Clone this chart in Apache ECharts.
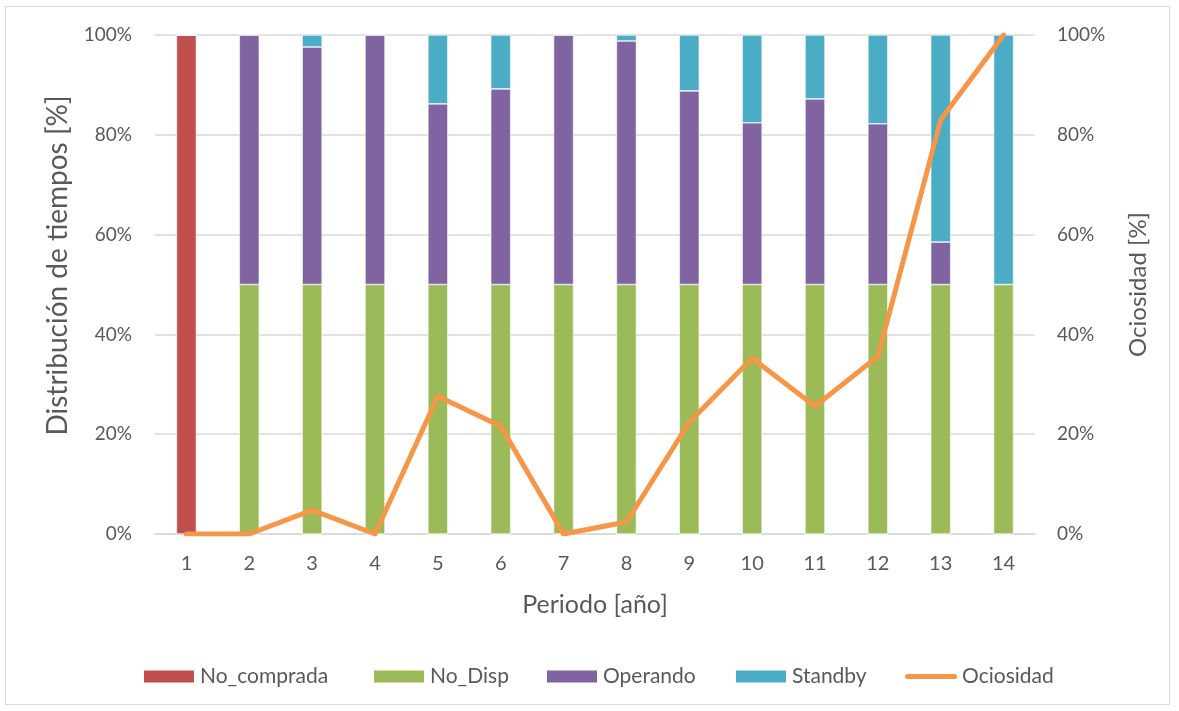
<!DOCTYPE html>
<html>
<head>
<meta charset="utf-8">
<script src="https://cdn.jsdelivr.net/npm/echarts@6/dist/echarts.min.js"></script>
<style>
  html, body { margin: 0; padding: 0; background: #fff; }
  #frame { position: absolute; left: 5px; top: 6px; width: 1165px; height: 699px; border: 1px solid #D9D9D9; box-sizing: border-box; }
  #chart { width: 1179px; height: 711px; }
</style>
</head>
<body>
<div id="frame"></div>
<div id="chart"></div>
<script>
// Periods (years)
const periodos = ['1','2','3','4','5','6','7','8','9','10','11','12','13','14'];

// Time distribution per period [%]
const noComprada = [100, 0, 0, 0, 0, 0, 0, 0, 0, 0, 0, 0, 0, 0];
const noDisp     = [0, 50, 50, 50, 50, 50, 50, 50, 50, 50, 50, 50, 50, 50];
const operando   = [0, 50, 47.6, 50, 36.2, 39.2, 50, 48.8, 38.8, 32.4, 37.2, 32.2, 8.5, 0];
const standby    = [0, 0, 2.4, 0, 13.8, 10.8, 0, 1.2, 11.2, 17.6, 12.8, 17.8, 41.5, 50];

// Idleness per period [%]
const ociosidad  = [0, 0, 4.8, 0, 27.6, 21.6, 0, 2.4, 22.4, 35.2, 25.6, 35.6, 83, 100];

const yTicks = [0, 20, 40, 60, 80, 100];

const FONT = 'Lato, "Open Sans", sans-serif';
const TXT = '#595959';
const GRID = '#D9D9D9';
const ORANGE = '#F79646';

const chart = echarts.init(document.getElementById('chart'));

function barSeries(name, data, color) {
  return {
    name: name,
    type: 'bar',
    stack: 'dist',
    barWidth: 20,
    data: data,
    itemStyle: { color: color, borderColor: '#ffffff', borderWidth: 0.6 },
    emphasis: { disabled: true }
  };
}

// One legend block per entry so each sits at its own spot along the bottom row
function legendItem(name, left, icon, extra) {
  return Object.assign({
    left: left,
    top: 666,
    padding: 0,
    itemWidth: 52,
    itemHeight: 14,
    textStyle: { color: TXT, fontFamily: FONT, fontSize: 21 },
    data: [{ name: name, icon: icon }]
  }, extra || {});
}

const pctLabel = {
  color: TXT, fontFamily: FONT, fontSize: 19,
  formatter: v => v + '%'
};

chart.setOption({
  animation: false,
  textStyle: { fontFamily: FONT },
  grid: { left: 155, right: 144, top: 35, bottom: 177 },
  legend: [
    legendItem('No_comprada', 142, 'rect'),
    legendItem('No_Disp', 372, 'rect'),
    legendItem('Operando', 545, 'rect'),
    legendItem('Standby', 734, 'rect'),
    legendItem('Ociosidad', 905,
      'path://M2.5,0 L49.5,0 A2.5,2.5 0 0 1 49.5,5 L2.5,5 A2.5,2.5 0 0 1 2.5,0 Z',
      { itemHeight: 5, top: 666 })
  ],
  xAxis: {
    type: 'category',
    data: periodos,
    name: 'Periodo [año]',
    nameLocation: 'middle',
    nameGap: 58,
    nameTextStyle: { color: TXT, fontFamily: FONT, fontSize: 25 },
    axisLine: { lineStyle: { color: GRID, width: 1.5 } },
    axisTick: { show: false },
    axisLabel: { color: TXT, fontFamily: FONT, fontSize: 20, margin: 20 }
  },
  yAxis: [
    {
      type: 'value',
      min: yTicks[0],
      max: yTicks[yTicks.length - 1],
      interval: 20,
      name: 'Distribución de tiempos [%]',
      nameLocation: 'middle',
      nameGap: 83,
      nameTextStyle: { color: TXT, fontFamily: FONT, fontSize: 28, padding: [0, 0, 0, 38] },
      axisLine: { show: false },
      axisTick: { show: false },
      splitLine: { lineStyle: { color: GRID, width: 1.5 } },
      axisLabel: Object.assign({ margin: 23 }, pctLabel)
    },
    {
      type: 'value',
      min: yTicks[0],
      max: yTicks[yTicks.length - 1],
      interval: 20,
      name: 'Ociosidad [%]',
      nameLocation: 'middle',
      nameGap: 91,
      nameTextStyle: { color: TXT, fontFamily: FONT, fontSize: 24 },
      axisLine: { show: false },
      axisTick: { show: false },
      splitLine: { show: false },
      axisLabel: Object.assign({ margin: 22 }, pctLabel)
    }
  ],
  series: [
    barSeries('No_comprada', noComprada, '#C0504D'),
    barSeries('No_Disp', noDisp, '#9BBB59'),
    barSeries('Operando', operando, '#8064A2'),
    barSeries('Standby', standby, '#4BACC6'),
    {
      name: 'Ociosidad',
      type: 'line',
      yAxisIndex: 1,
      data: ociosidad,
      symbol: 'none',
      lineStyle: { color: ORANGE, width: 5, cap: 'round', join: 'round' },
      itemStyle: { color: ORANGE },
      emphasis: { disabled: true },
      z: 5
    }
  ]
});
</script>
</body>
</html>
